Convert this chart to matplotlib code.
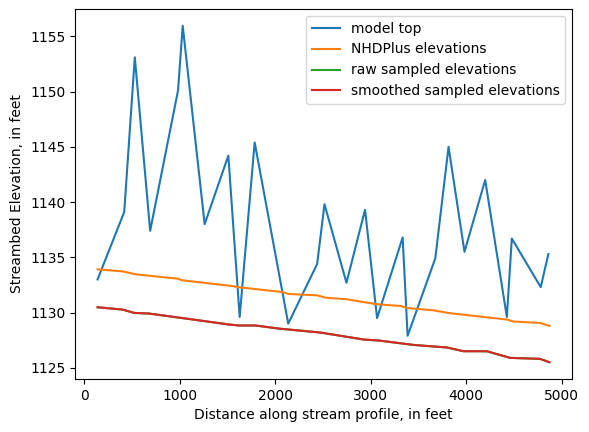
import matplotlib
matplotlib.use("Agg")
import matplotlib.pyplot as plt

# model top
top_x = [138, 417, 528, 689, 981, 1030, 1260, 1508, 1627, 1784, 2136, 2439, 2516,
         2746, 2941, 3067, 3335, 3387, 3677, 3816, 3983, 4200, 4427, 4479, 4782, 4862]
top_y = [1133.0, 1139.1, 1153.1, 1137.4, 1150.1, 1155.95, 1138.0, 1144.2, 1129.6, 1145.4,
         1129.0, 1134.4, 1139.8, 1132.7, 1139.3, 1129.5, 1136.8, 1127.9, 1134.9, 1145.0,
         1135.5, 1142.0, 1129.6, 1136.7, 1132.3, 1135.3]

# NHDPlus elevations
nhd_x = [138, 400, 539, 975, 1027, 1550, 1620, 2073, 2143, 2439, 2526, 2753, 3067,
         3311, 3381, 3659, 3834, 4427, 4496, 4775, 4873]
nhd_y = [1133.91, 1133.73, 1133.46, 1133.07, 1132.92, 1132.40, 1132.29, 1131.86, 1131.68,
         1131.56, 1131.35, 1131.2, 1130.75, 1130.6, 1130.42, 1130.2, 1129.94, 1129.37,
         1129.19, 1129.06, 1128.8]

# sampled elevations
samp_x = [138, 400, 521, 678, 1062, 1515, 1620, 1794, 2038, 2474, 2927, 3084, 3450,
          3799, 3973, 4217, 4461, 4775, 4873]
raw_y = [1130.48, 1130.27, 1129.97, 1129.91, 1129.46, 1128.92, 1128.83, 1128.83, 1128.55,
         1128.19, 1127.56, 1127.47, 1127.07, 1126.84, 1126.50, 1126.50, 1125.90, 1125.81,
         1125.51]
smooth_y = [1130.48, 1130.27, 1129.97, 1129.91, 1129.46, 1128.92, 1128.83, 1128.83, 1128.55,
            1128.19, 1127.56, 1127.47, 1127.07, 1126.84, 1126.50, 1126.50, 1125.90, 1125.81,
            1125.51]

fig = plt.figure(figsize=(5.89, 4.32), dpi=100)
ax = fig.add_axes([75/589, 1-379/432, 497/589, 370/432])
ax.plot(top_x, top_y, label="model top")
ax.plot(nhd_x, nhd_y, label="NHDPlus elevations")
ax.plot(samp_x, raw_y, label="raw sampled elevations")
ax.plot(samp_x, smooth_y, label="smoothed sampled elevations")
ax.set_xlabel("Distance along stream profile, in feet")
ax.set_ylabel("Streambed Elevation, in feet")
ax.legend(loc="upper right")
fig.savefig("out.png", dpi=100)
